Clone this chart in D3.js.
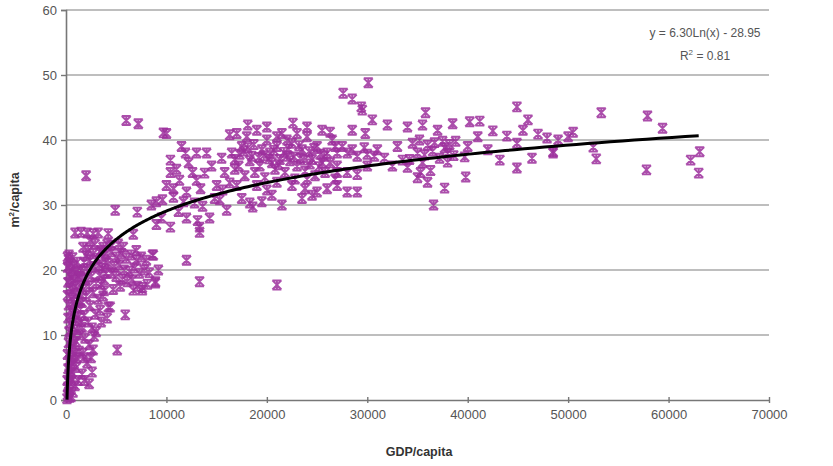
<!DOCTYPE html>
<html><head><meta charset="utf-8">
<script src="https://cdn.jsdelivr.net/npm/d3@7"></script>
<style>body{margin:0;background:#fff;} text{font-family:"Liberation Sans",Arial,sans-serif;}</style>
</head><body>
<svg id="c" width="833" height="466"></svg>
<script>
const xTicks = [0,10000,20000,30000,40000,50000,60000,70000];
const yTicks = [0,10,20,30,40,50,60];
const trendCoef = {a:6.30, b:-28.95, r2:0.81, xMin:100, xMax:63000};
// GDP per capita, m2 per capita
const lowIncome = [
[100,0.2],[150,0.8],[250,1.2],[200,2],[350,2.6],[120,3],[450,3.4],[300,4],[600,4.2],[200,4.8],[500,5.3],[800,5.6],[350,6.1],[650,6.6],[150,7],[900,7.2],[450,7.8],[750,8.3],[250,8.8],[1000,9],[550,9.5],[850,10],[300,10.5],[1100,10.8],[650,11.3],[400,11.8],[950,12.2],[200,12.6],[1200,12.8],[700,13.3],[450,13.8],[1000,14.2],[250,14.6],[800,15],[1300,15.3],[550,15.7],[150,16.1],[1100,16.4],[650,16.8],[350,17.2],[900,17.5],[1400,17.7],[200,18.1],[750,18.4],[500,18.8],[1200,19],[300,19.3],[950,19.6],[600,19.9],[1450,20],[150,20.4],[800,20.6],[400,21],[1100,21.2],[250,21.6],[650,21.9],[300,22.3],[150,22],[1000,5],[1300,7.5],[1400,10],[1200,3],[900,2.2],[700,1.2],[500,0.5],[1500,12],[1450,14],[350,0.4],[600,3],[1050,6.5],[1350,19],
[1600,4],[2600,4.3],[2100,5.7],[1800,6.5],[2700,7.7],[1700,7.2],[2300,8.5],[1900,9.5],[2800,9.8],[1600,11.2],[2600,11.1],[2200,12],[3400,13.8],[1800,13],[2900,13.2],[2400,14.5],[1600,15],[3200,15.5],[2000,16],[2700,16.5],[3700,16],[1700,17],[2300,17.5],[3000,18],[3500,17.8],[1900,18.5],[2500,19],[3300,19.2],[1600,19.8],[2100,20.2],[2800,20.5],[3600,20.3],[1800,21.2],[2400,21.5],[3100,21.8],[3900,21.2],[2000,22.2],[2700,22.5],[3400,22.8],[2200,23],[1700,23.5],[3000,10.5],[3500,12],[2500,6.5],[4100,12.6],[4200,14.3],[4400,14.3],[5900,13.1],[5100,7.7],[3800,18.5],[4000,19.5],[2300,2.5],[1800,3]
];
const middleIncome = [
[900,25.7],[1500,25.8],[2100,25.7],[2700,25.6],[3200,25.7],[4200,25.6],[6700,25.5],[2000,34.5],
[3500,23],[4000,22.5],[4500,22.8],[5000,22],[5500,22.5],[6000,21.8],[6500,22.3],[7000,21.5],[7500,22],[4200,21],[4800,20.5],[5300,20.8],[5800,20],[6300,19.8],[6800,20.3],[7300,19.5],[7800,20],[8300,19.6],[4500,19.5],[5000,19],[5600,18.6],[6100,18.2],[6600,18.5],[7100,17.5],[7600,17.3],[8100,17.8],[8600,22.3],[8900,18.2],[6700,16.9],[7600,16.9],[5400,17.5],[4700,17],[3800,16.8],[3300,20.8],[3700,23.5],[4100,24],[4600,23.8],[5200,24],[5700,23.5],[2900,24],[2400,24.5],[8000,21.5],[9200,20],[7000,23],
[4900,29.2],[7100,28.9],[9700,41.1],[10000,41],[8500,30],[9000,30.5],[10400,26.6],[10400,36.9],[10400,35],[11900,38],[13000,38],[14000,38],[15500,37.2],[12600,35],[13800,34.9],[11300,33.8],[13000,33.8],[10700,32.5],[12000,32],[13400,32.5],[9600,30.8],[10700,31.2],[11700,30.5],[12800,30.3],[13600,29.8],[12000,28],[13100,27.6],[14300,28],[15300,30.8],[16000,29.2],[13300,26.6],[13300,25.8],[8700,22.3],[12000,21.5],[8900,18],[13300,18.2],[11000,35.5],[9500,28],[10000,33],[12200,36.5],[14500,36],[15000,33],[14800,31],[11200,29],[9000,27],[15800,35],[16300,33.4],[15600,32.3],[16300,40.8],[7200,42.5],[6000,43],[11500,39],[21000,17.7]
];
const highIncome = [
[17000,41],[17500,39],[18000,40.5],[18500,37.5],[19000,41.5],[19500,38.5],[20000,40],[20500,36.5],[21000,39],[21500,41],[22000,37.5],[22500,39.5],[23000,36],[23500,38.5],[24000,40.5],[24500,37],[25000,39],[25500,36.5],[26000,38],[26500,40],[17200,36],[17800,34.5],[18300,36.8],[18800,35],[19300,36],[19800,34.2],[20300,38],[20800,35.5],[21300,37],[21800,35],[22300,36.8],[22800,34],[23300,37.2],[23800,35.2],[24300,36.3],[24800,34.5],[25300,37.8],[25800,35],[26300,36.5],[26800,34],[16500,38],[16800,35.5],[17300,37.8],[17700,38.3],[18100,38.8],[18700,39.3],[19200,37.3],[19700,37.6],[20200,37.1],[20700,38.4],[21200,36.2],[21700,38.1],[22200,38.6],[22700,37.4],[23200,39.1],[23700,36.9],[24200,38.2],[24700,38.7],[25200,35.9],[25700,37.5],[20000,42],[21000,40.5],[22600,42.6],[18100,42.3],[26300,41.2],[19000,33],[20000,32.3],[21000,33.5],[22500,33],[23800,32.5],[24000,34],[25000,32],[26000,32.5],[27000,33],[18300,30.3],[18600,29.7],[17500,31],[19500,30.5],[20500,31.5],[21500,30],[23500,31],[24500,31.5],[17000,33],[16800,37],[22000,40],[23000,41],[24000,42],[25500,41.5],[27000,38],[27000,36],[26800,39],[27000,35],
[30100,48.8],[27600,47.2],[28500,46.3],[29400,45.1],[29500,44.6],[30500,43.1],[32000,42.3],[34000,42],[35500,42.3],[35800,44.2],[37000,41.5],[40200,42.8],[41200,42.9],[42500,41.4],[43900,40.6],[44900,45.1],[46000,43.1],[47000,40.9],[47900,40.3],[48500,38],[46400,37.2],[44900,35.7],[44900,39.5],[43200,36.9],[39700,37.4],[39800,34.3],[37700,32.6],[36600,30],[34500,39.5],[35200,40],[36000,39.2],[36700,39.6],[37500,39.8],[38200,39.3],[38800,39.8],[35000,38],[35700,37.7],[36500,38.3],[37200,37.2],[38000,38],[38600,37.6],[34200,37],[35500,36.5],[37700,38.8],[35300,35],[36000,33.5],[35000,34.2],[36300,35.3],[33500,36.9],[34000,35.8],[38000,36.6],[27500,39],[28000,38],[28500,38.5],[29000,37.5],[29700,38.8],[30000,37.8],[30700,37.5],[31700,37.2],[28000,35],[29000,34.7],[28000,32],[29000,32],[30000,36],[31000,38.5],[32500,36],[29800,41],[28500,41.5],[33000,39],[38500,42.5],[40000,39],[41000,40.5],[42000,38.5],[50500,41.2],[48500,38.2],[53300,44.2],[52500,38.9],[52800,37.1],[57900,43.7],[59400,41.8],[57800,35.4],[62200,36.9],[63100,38.2],[63000,34.9],[49000,40],[50000,40.5],[45500,41.5]
];
const observations = lowIncome.concat(middleIncome, highIncome);

const svg = d3.select('#c');
const x = d3.scaleLinear().domain([0,70000]).range([66,769]);
const y = d3.scaleLinear().domain([0,60]).range([400,10]);

// gridlines
svg.append('g').selectAll('line').data(yTicks.filter(d=>d>0)).join('line')
  .attr('x1',x(0)).attr('x2',x(70000)).attr('y1',d=>y(d)).attr('y2',d=>y(d))
  .attr('stroke','#a8a8a8').attr('stroke-width',1.6);

// y axis
const ya = svg.append('g').attr('transform',`translate(${x(0)},0)`)
  .call(d3.axisLeft(y).tickValues(yTicks).tickSize(5).tickPadding(4));
ya.select('.domain').attr('stroke','#777').attr('stroke-width',1.6);
ya.selectAll('.tick line').attr('stroke','#777').attr('stroke-width',1.4);
ya.selectAll('text').attr('fill','#555').style('font-size','13px');

// x axis
const xa = svg.append('g').attr('transform',`translate(0,${y(0)})`)
  .call(d3.axisBottom(x).tickValues(xTicks).tickFormat(d3.format('d')).tickSizeInner(3).tickSizeOuter(0).tickPadding(7));
xa.select('.domain').attr('stroke','#777').attr('stroke-width',1.6);
xa.selectAll('.tick line').attr('stroke','#777').attr('stroke-width',1.4).attr('y1',-3);
xa.selectAll('text').attr('fill','#555').style('font-size','13px');

// markers
const marker = 'M-4.5,-4.5H4.5M-4.5,4.5H4.5M-4.5,-4.5L4.5,4.5M4.5,-4.5L-4.5,4.5M0,-4.5V4.5';
svg.append('g').selectAll('path').data(observations).join('path')
  .attr('transform',d=>`translate(${x(d[0])},${y(d[1])})`)
  .attr('d',marker).attr('fill','none').attr('stroke','#9c2f9c').attr('stroke-width',1.9).attr('opacity',0.85);

// trend line
const tx = d3.range(0,301).map(i=>trendCoef.xMin*Math.pow(trendCoef.xMax/trendCoef.xMin,i/300));
svg.append('path').datum(tx)
  .attr('d',d3.line().x(d=>x(d)).y(d=>y(trendCoef.a*Math.log(d)+trendCoef.b)))
  .attr('fill','none').attr('stroke','#000').attr('stroke-width',3);

// equation
const eq = svg.append('g').attr('fill','#555').style('font-size','12px').attr('text-anchor','middle');
eq.append('text').attr('x',705).attr('y',37).text(`y = ${trendCoef.a.toFixed(2)}Ln(x) - ${Math.abs(trendCoef.b).toFixed(2)}`);
const r = eq.append('text').attr('x',705).attr('y',60);
r.append('tspan').text('R');
r.append('tspan').attr('dy',-5).style('font-size','8px').text('2');
r.append('tspan').attr('dy',5).text(` = ${trendCoef.r2.toFixed(2)}`);

// axis titles
svg.append('text').attr('x',419).attr('y',456).attr('text-anchor','middle')
  .style('font-size','12.5px').style('font-weight','bold').attr('fill','#333').text('GDP/capita');
const yt = svg.append('text').attr('transform','translate(19,200) rotate(-90)').attr('text-anchor','middle')
  .style('font-size','12.5px').style('font-weight','bold').attr('fill','#333');
yt.append('tspan').text('m');
yt.append('tspan').attr('dy',-5).style('font-size','8px').text('2');
yt.append('tspan').attr('dy',5).text('/capita');
</script>
</body></html>
